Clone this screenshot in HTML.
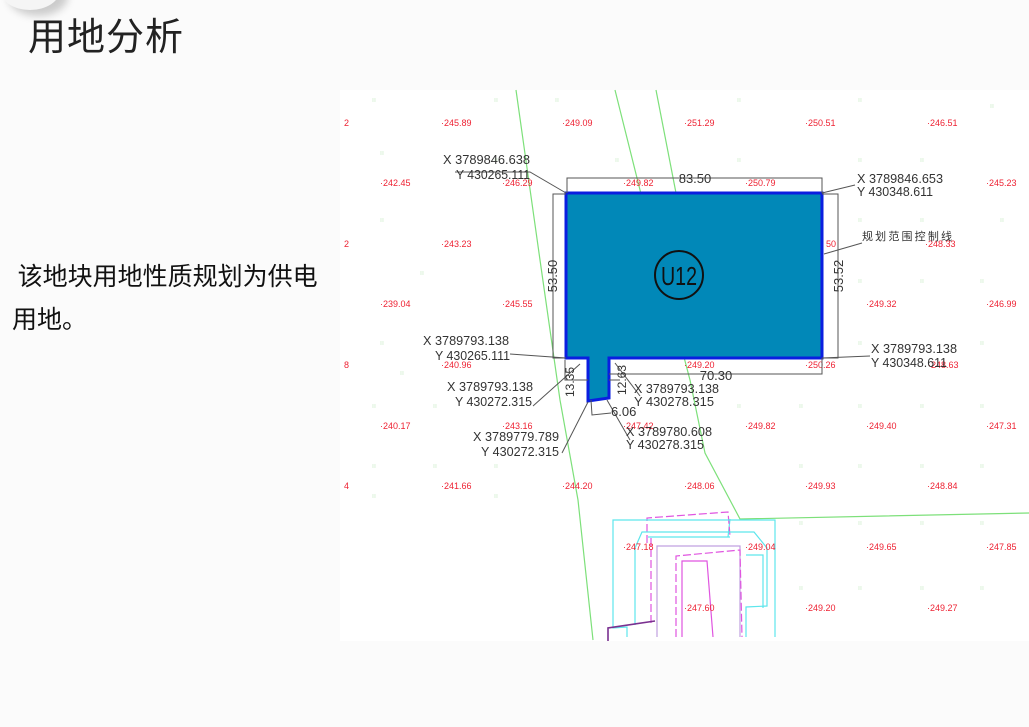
<!DOCTYPE html>
<html><head><meta charset="utf-8"><style>
html,body{margin:0;padding:0;background:#fbfbfb;width:1029px;height:727px;overflow:hidden;position:relative;font-family:"Liberation Sans","Noto Sans CJK SC",sans-serif}
.t{position:absolute;left:28px;top:6px;font-size:38px;color:#222;font-family:"Noto Sans CJK SC",sans-serif;letter-spacing:1px}
.p{position:absolute;left:12px;top:254px;width:340px;font-size:25px;line-height:43px;color:#111;font-family:"Noto Sans CJK SC",sans-serif;white-space:nowrap}
svg{position:absolute;left:0;top:0}
</style></head><body>
<div style="position:absolute;left:0;top:-30px;width:60px;height:40px;border-radius:50%;box-shadow:8px 6px 8px #ccc;background:#f5f5f5"></div>
<div class="t">用地分析</div>
<div class="p">&nbsp;该地块用地性质规划为供电<br>用地。</div>
<svg width="1029" height="727" xmlns="http://www.w3.org/2000/svg">
<rect x="340" y="90" width="689" height="551" fill="#fff"/>
<g fill="#ccebc8" font-size="7" font-family="Liberation Sans">
<text x="372" y="102">ıı</text><text x="494" y="102">ıı</text><text x="555" y="102">ıı</text><text x="737" y="102">ıı</text><text x="858" y="102">ıı</text><text x="990" y="108">ıı</text>
<text x="380" y="155">ıı</text><text x="494" y="162">ıı</text><text x="615" y="162">ıı</text><text x="737" y="162">ıı</text><text x="858" y="162">ıı</text><text x="920" y="162">ıı</text>
<text x="380" y="222">ıı</text><text x="858" y="222">ıı</text><text x="920" y="222">ıı</text><text x="1000" y="222">ıı</text>
<text x="858" y="283">ıı</text><text x="920" y="283">ıı</text><text x="980" y="283">ıı</text><text x="420" y="275">ıı</text>
<text x="380" y="345">ıı</text><text x="858" y="345">ıı</text><text x="980" y="345">ıı</text><text x="400" y="375">ıı</text>
<text x="372" y="408">ıı</text><text x="433" y="408">ıı</text><text x="737" y="408">ıı</text><text x="799" y="408">ıı</text><text x="858" y="408">ıı</text><text x="920" y="408">ıı</text><text x="980" y="408">ıı</text>
<text x="372" y="468">ıı</text><text x="433" y="468">ıı</text><text x="494" y="468">ıı</text><text x="799" y="468">ıı</text><text x="858" y="468">ıı</text><text x="920" y="468">ıı</text><text x="980" y="468">ıı</text>
<text x="372" y="498">ıı</text><text x="494" y="498">ıı</text><text x="799" y="525">ıı</text><text x="858" y="525">ıı</text><text x="920" y="525">ıı</text><text x="980" y="525">ıı</text>
<text x="799" y="590">ıı</text><text x="858" y="590">ıı</text><text x="920" y="590">ıı</text><text x="980" y="590">ıı</text>
</g>
<g fill="none" stroke-width="1.2">
<polyline stroke="#7de07a" points="516,90 540,260 560,400 578,500 593,640"/>
<polyline stroke="#7de07a" points="615,90 640,190 690,380 705,453 740,519 1029,513"/>
<polyline stroke="#7de07a" points="656,90 676,193"/>
<polyline stroke="#5de6ec" points="648,537 730,537"/>
<polyline stroke="#5de6ec" points="728,537 730,519"/>
<polyline stroke="#e055e0" stroke-dasharray="8,3" points="647,543 647,518 728,512 730,536"/>
<polyline stroke="#5de6ec" points="627,637 627,627 613,628 613,520 775,520 775,637"/>
<polyline stroke="#5de6ec" points="635,625 635,548 642,532 754,532 767,548 767,606 746,607 746,637"/>
<polyline stroke="#c0a0e0" points="657,637 657,546 740,546 740,637"/>
<polyline stroke="#e055e0" stroke-dasharray="8,3" points="651,623 651,537"/>
<polyline stroke="#e055e0" stroke-dasharray="8,3" points="676,637 676,556 740,550 742,637"/>
<polyline stroke="#e055e0" points="682,637 682,561 707,561 713,637"/>
<polyline stroke="#7a3090" stroke-width="1.6" points="608,641 608,628 655,621"/>
<polyline stroke="#5de6ec" points="746,555 763,555 763,608"/>
</g>
<g fill="#e23" font-size="9" font-family="Liberation Sans">
<text x="344" y="126">2</text><text x="441" y="126">·245.89</text><text x="562" y="126">·249.09</text><text x="684" y="126">·251.29</text><text x="805" y="126">·250.51</text><text x="927" y="126">·246.51</text>
<text x="380" y="186">·242.45</text><text x="502" y="186">·246.29</text><text x="623" y="186">·249.82</text><text x="745" y="186">·250.79</text><text x="986" y="186">·245.23</text>
<text x="344" y="247">2</text><text x="441" y="247">·243.23</text><text x="826" y="247">50</text><text x="925" y="247">·248.33</text>
<text x="380" y="307">·239.04</text><text x="502" y="307">·245.55</text><text x="866" y="307">·249.32</text><text x="986" y="307">·246.99</text>
<text x="344" y="368">8</text><text x="441" y="368">·240.96</text><text x="684" y="368">·249.20</text><text x="805" y="368">·250.26</text><text x="928" y="368">·248.63</text>
<text x="380" y="429">·240.17</text><text x="502" y="429">·243.16</text><text x="623" y="429">·247.42</text><text x="745" y="429">·249.82</text><text x="866" y="429">·249.40</text><text x="986" y="429">·247.31</text>
<text x="344" y="489">4</text><text x="441" y="489">·241.66</text><text x="562" y="489">·244.20</text><text x="684" y="489">·248.06</text><text x="805" y="489">·249.93</text><text x="927" y="489">·248.84</text>
<text x="623" y="550">·247.18</text><text x="745" y="550">·249.04</text><text x="866" y="550">·249.65</text><text x="986" y="550">·247.85</text>
<text x="684" y="611">·247.60</text><text x="805" y="611">·249.20</text><text x="927" y="611">·249.27</text>
</g>
<path d="M566,193 H822 V358 H609 V398 L588,401 V358 H566 Z" fill="#0188b8" stroke="#0a1ee0" stroke-width="3"/>
<circle cx="679" cy="275" r="24" fill="none" stroke="#111" stroke-width="2"/>
<text x="679" y="285" font-size="26" text-anchor="middle" fill="#111" font-family="Liberation Sans" textLength="36" lengthAdjust="spacingAndGlyphs">U12</text>
<g fill="none" stroke="#555" stroke-width="1">
<polyline points="567,193 567,178 822,178 822,193"/>
<polyline points="566,194 553,194 553,358 566,358"/>
<polyline points="822,194 838,194 838,358 822,358"/>
<polyline points="609,374 822,374 822,358"/>
<polyline points="588,380 565,380 565,360"/>
<polyline points="609,380 620,380"/>
<polyline points="591,400 592,415 611,413"/>
<polyline points="455,172 530,172 566,193"/>
<polyline points="822,193 855,185"/>
<polyline points="862,243 824,254"/>
<polyline points="510,354 566,358"/>
<polyline points="822,358 870,356"/>
<polyline points="533,406 580,364"/>
<polyline points="640,396 615,363"/>
<polyline points="562,453 588,402"/>
<polyline points="630,440 607,400"/>
</g>
<g fill="#333" font-size="13" font-family="Liberation Sans">
<text x="695" y="183" text-anchor="middle">83.50</text>
<text x="716" y="380" text-anchor="middle">70.30</text>
<text x="611" y="416">6.06</text>
<text transform="translate(557,276) rotate(-90)" text-anchor="middle">53.50</text>
<text transform="translate(843,276) rotate(-90)" text-anchor="middle">53.52</text>
<text transform="translate(574,382) rotate(-90)" text-anchor="middle" font-size="12">13.35</text>
<text transform="translate(626,380) rotate(-90)" text-anchor="middle" font-size="12">12.63</text>
<text x="443" y="164" textLength="87" lengthAdjust="spacingAndGlyphs">X 3789846.638</text>
<text x="456" y="179" textLength="74" lengthAdjust="spacingAndGlyphs">Y 430265.111</text>
<text x="857" y="183" textLength="86" lengthAdjust="spacingAndGlyphs">X 3789846.653</text>
<text x="857" y="196" textLength="76" lengthAdjust="spacingAndGlyphs">Y 430348.611</text>
<text x="862" y="240" font-size="11" font-family="Noto Sans CJK SC,sans-serif" textLength="90">规划范围控制线</text>
<text x="423" y="345" textLength="86" lengthAdjust="spacingAndGlyphs">X 3789793.138</text>
<text x="435" y="360" textLength="75" lengthAdjust="spacingAndGlyphs">Y 430265.111</text>
<text x="871" y="353" textLength="86" lengthAdjust="spacingAndGlyphs">X 3789793.138</text>
<text x="871" y="367" textLength="76" lengthAdjust="spacingAndGlyphs">Y 430348.611</text>
<text x="447" y="391" textLength="86" lengthAdjust="spacingAndGlyphs">X 3789793.138</text>
<text x="455" y="406" textLength="77" lengthAdjust="spacingAndGlyphs">Y 430272.315</text>
<text x="634" y="393" textLength="85" lengthAdjust="spacingAndGlyphs">X 3789793.138</text>
<text x="634" y="406" textLength="80" lengthAdjust="spacingAndGlyphs">Y 430278.315</text>
<text x="473" y="441" textLength="86" lengthAdjust="spacingAndGlyphs">X 3789779.789</text>
<text x="481" y="456" textLength="78" lengthAdjust="spacingAndGlyphs">Y 430272.315</text>
<text x="626" y="436" textLength="86" lengthAdjust="spacingAndGlyphs">X 3789780.608</text>
<text x="626" y="449" textLength="78" lengthAdjust="spacingAndGlyphs">Y 430278.315</text>
</g>
</svg>
</body></html>
